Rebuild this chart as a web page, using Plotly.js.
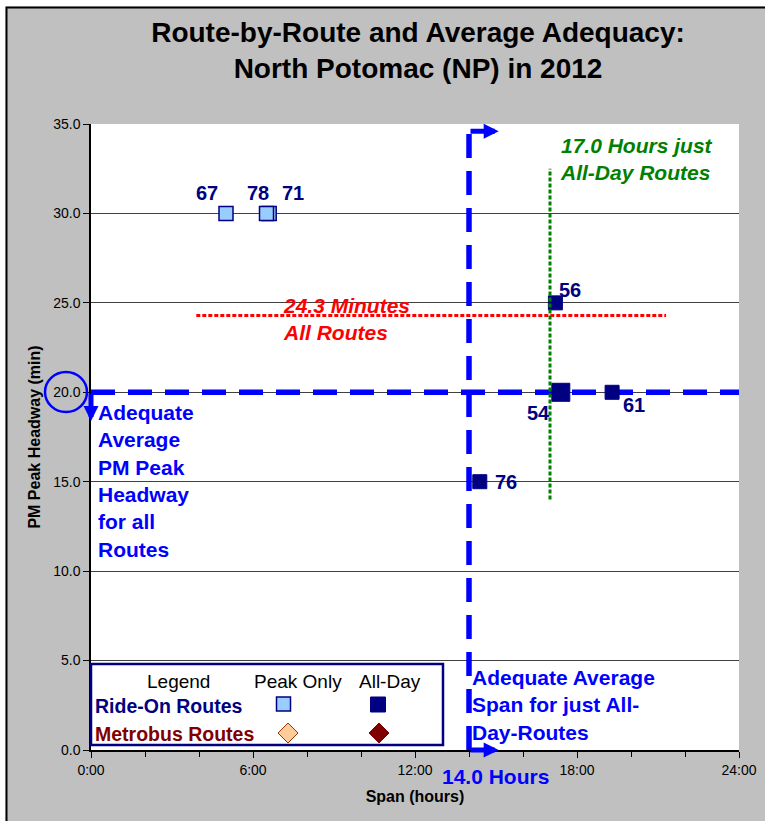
<!DOCTYPE html>
<html>
<head>
<meta charset="utf-8">
<script src="https://cdn.plot.ly/plotly-3.0.1.min.js"></script>
<style>
  html, body { margin: 0; padding: 0; background: #ffffff; }
  #chart { width: 765px; height: 821px; }
</style>
</head>
<body>
<div id="chart"></div>
<script>
// ---------- data ----------
const peakRoutes = ['67', '71', '78'];
const peakSpan = [5.0, 6.6, 6.5];          // hours
const peakHeadway = [30, 30, 30];          // minutes

const allDayRoutes = ['56', '54', '61', '76'];
const allDaySpan = [17.2, 17.4, 19.3, 14.4];
const allDayHeadway = [25, 20, 20, 15];

const avgHeadwayAllRoutes = 24.3;          // minutes
const avgSpanAllDay = 17.0;                // hours
const adequateHeadway = 20;                // minutes
const adequateSpan = 14.0;                 // hours

const avgHeadwayLineSpan = [3.9, 21.3];    // extent of red average line (hours)
const avgSpanLineHeadway = [14.0, 32.5];   // extent of green average line (minutes)
const adequateSpanLineHeadway = [0, 34.6]; // extent of blue vertical line
const adequateHeadwayLineSpan = [0, 24];   // extent of blue horizontal line
const spanArrowTip = 15.1;                 // arrow tips (hours)
const headwayArrowTip = 18.4;              // arrow tip (minutes)

const spanTickVals = [0, 6, 12, 18, 24];
const spanTickText = ['0:00', '6:00', '12:00', '18:00', '24:00'];
const headwayTickVals = [0, 5, 10, 15, 20, 25, 30, 35];

// ---------- styling ----------
const FONT = 'Liberation Sans, Arial, Helvetica, sans-serif';
const NAVY = '#000080';
const BLUE = '#0000FF';
const RED = '#FF0000';
const GREEN = '#008000';
const DARKRED = '#800000';

// plot area in pixels: left 91, right 739, top 124, bottom 750
const M = { l: 91, r: 26, t: 124, b: 71 };
const PW = 765 - M.l - M.r, PH = 821 - M.t - M.b;
const px2x = px => (px - M.l) / PW;
const py2y = py => (M.t + PH - py) / PH;

const allDaySizes = [14, 18, 14, 14];
const labelOffset = {
  '67': [-19, 20], '78': [-9, 20], '71': [24, 20],
  '56': [15, 13], '54': [-22, -21], '61': [22, -13], '76': [26, 0]
};

const traces = [
  { // adequate headway (blue dashed horizontal)
    x: adequateHeadwayLineSpan, y: [adequateHeadway, adequateHeadway],
    mode: 'lines', hoverinfo: 'skip', showlegend: false,
    line: { color: BLUE, width: 5.5, dash: '24px,13px' }
  },
  { // adequate span (blue dashed vertical)
    x: [adequateSpan, adequateSpan], y: adequateSpanLineHeadway,
    mode: 'lines', hoverinfo: 'skip', showlegend: false,
    line: { color: BLUE, width: 5.5, dash: '24px,13px' }
  },
  { // average headway all routes
    x: avgHeadwayLineSpan, y: [avgHeadwayAllRoutes, avgHeadwayAllRoutes],
    mode: 'lines', hoverinfo: 'skip', showlegend: false,
    line: { color: RED, width: 3, dash: '4px,2px' }
  },
  { // Ride-On peak only
    x: peakSpan, y: peakHeadway, text: peakRoutes, name: 'Ride-On Peak Only',
    mode: 'markers', showlegend: false, cliponaxis: false,
    marker: { symbol: 'square', size: 14, opacity: 1, color: '#99CCFF', line: { color: NAVY, width: 1.5 } }
  },
  { // Ride-On all day
    x: allDaySpan, y: allDayHeadway, text: allDayRoutes, name: 'Ride-On All-Day',
    mode: 'markers', showlegend: false, cliponaxis: false,
    marker: { symbol: 'square', size: allDaySizes, opacity: 1, color: NAVY, line: { color: NAVY, width: 1 } }
  },
  { // average span all-day routes
    x: [avgSpanAllDay, avgSpanAllDay], y: avgSpanLineHeadway,
    mode: 'lines', hoverinfo: 'skip', showlegend: false,
    line: { color: GREEN, width: 3, dash: '4px,2px' }
  }
];

const bold = (size, color) => ({ family: FONT, size: size, color: color, weight: 'bold' });
const boldItalic = (size, color) => ({ family: FONT, size: size, color: color, weight: 'bold', style: 'italic' });

const annotations = [];

// route labels
function addLabels(routes, xs, ys) {
  routes.forEach((r, i) => {
    annotations.push({
      x: xs[i], y: ys[i], xref: 'x', yref: 'y', text: r, showarrow: false,
      xanchor: 'center', yanchor: 'middle',
      xshift: labelOffset[r][0], yshift: labelOffset[r][1],
      font: bold(20, NAVY)
    });
  });
}
addLabels(peakRoutes, peakSpan, peakHeadway);
addLabels(allDayRoutes, allDaySpan, allDayHeadway);

// text callouts
annotations.push(
  { xref: 'paper', yref: 'paper', x: px2x(281), y: py2y(319), xanchor: 'left', yanchor: 'middle', align: 'left',
    text: avgHeadwayAllRoutes.toFixed(1) + ' Minutes<br>All Routes', showarrow: false, font: boldItalic(21, RED) },
  { xref: 'paper', yref: 'paper', x: px2x(558), y: py2y(159), xanchor: 'left', yanchor: 'middle', align: 'left',
    text: avgSpanAllDay.toFixed(1) + ' Hours just<br>All-Day Routes', showarrow: false, font: boldItalic(21, GREEN) },
  { xref: 'paper', yref: 'paper', x: px2x(96), y: py2y(481), xanchor: 'left', yanchor: 'middle', align: 'left',
    text: 'Adequate<br>Average<br>PM Peak<br>Headway<br>for all<br>Routes', showarrow: false, font: bold(21, BLUE) },
  { xref: 'paper', yref: 'paper', x: px2x(470), y: py2y(705), xanchor: 'left', yanchor: 'middle', align: 'left',
    text: 'Adequate Average<br>Span for just All-<br>Day-Routes', showarrow: false, font: bold(21, BLUE) },
  { xref: 'paper', yref: 'paper', x: px2x(495), y: py2y(776), xanchor: 'center', yanchor: 'middle',
    text: adequateSpan.toFixed(1) + ' Hours', showarrow: false, font: bold(21, BLUE) }
);

// arrows
const arrowStyle = { text: '', showarrow: true, arrowhead: 2, arrowsize: 0.6, arrowwidth: 5,
  arrowcolor: BLUE, standoff: 0, startstandoff: 0, xref: 'x', yref: 'y', axref: 'x', ayref: 'y' };
annotations.push(
  Object.assign({}, arrowStyle, { x: spanArrowTip, y: adequateSpanLineHeadway[1], ax: adequateSpan, ay: adequateSpanLineHeadway[1] }),
  Object.assign({}, arrowStyle, { x: spanArrowTip, y: 0, ax: adequateSpan, ay: 0 }),
  Object.assign({}, arrowStyle, { x: 0, y: headwayArrowTip, ax: 0, ay: adequateHeadway })
);

// legend box texts
annotations.push(
  { xref: 'paper', yref: 'paper', x: px2x(178), y: py2y(681), xanchor: 'center', yanchor: 'middle',
    text: 'Legend', showarrow: false, font: { family: FONT, size: 19, color: '#000000' } },
  { xref: 'paper', yref: 'paper', x: px2x(298), y: py2y(681), xanchor: 'center', yanchor: 'middle',
    text: 'Peak Only', showarrow: false, font: { family: FONT, size: 19, color: '#000000' } },
  { xref: 'paper', yref: 'paper', x: px2x(390), y: py2y(681), xanchor: 'center', yanchor: 'middle',
    text: 'All-Day', showarrow: false, font: { family: FONT, size: 19, color: '#000000' } },
  { xref: 'paper', yref: 'paper', x: px2x(93), y: py2y(706), xanchor: 'left', yanchor: 'middle',
    text: 'Ride-On Routes', showarrow: false, font: bold(19.5, NAVY) },
  { xref: 'paper', yref: 'paper', x: px2x(93), y: py2y(734), xanchor: 'left', yanchor: 'middle',
    text: 'Metrobus Routes', showarrow: false, font: bold(19.5, DARKRED) }
);

function rectPx(x0, y0, x1, y1, extra) {
  return Object.assign({ type: 'rect', xref: 'paper', yref: 'paper',
    x0: px2x(x0), x1: px2x(x1), y0: py2y(y1), y1: py2y(y0) }, extra);
}
function diamondPx(cx, cy, h, extra) {
  const p = (x, y) => px2x(x) + ',' + py2y(y);
  return Object.assign({ type: 'path', xref: 'paper', yref: 'paper',
    path: 'M' + p(cx - h, cy) + 'L' + p(cx, cy - h) + 'L' + p(cx + h, cy) + 'L' + p(cx, cy + h) + 'Z' }, extra);
}

const shapes = [
  // white page margin strips and chart-area border
  rectPx(-20, -20, 5.5, 860, { layer: 'below', fillcolor: '#ffffff', line: { width: 0 } }),
  rectPx(-20, -20, 800, 6.5, { layer: 'below', fillcolor: '#ffffff', line: { width: 0 } }),
  rectPx(6.5, 7.5, 790, 850, { layer: 'below', fillcolor: 'rgba(0,0,0,0)', line: { color: '#000000', width: 2 } }),
  // legend box
  rectPx(91, 664, 443, 745, { layer: 'above', fillcolor: '#ffffff', line: { color: NAVY, width: 2.5 } }),
  rectPx(276.5, 697, 290.5, 711, { layer: 'above', fillcolor: '#99CCFF', line: { color: NAVY, width: 1.5 } }),
  rectPx(370.5, 697, 385.5, 712, { layer: 'above', fillcolor: NAVY, line: { color: NAVY, width: 1 } }),
  diamondPx(288, 733, 10, { layer: 'above', fillcolor: '#FFCC99', line: { color: '#993300', width: 1 } }),
  diamondPx(379, 733, 10, { layer: 'above', fillcolor: DARKRED, line: { color: DARKRED, width: 1 } }),
  // circle around 20.0 tick label
  { type: 'circle', xref: 'paper', yref: 'paper', x0: px2x(45), x1: px2x(87), y0: py2y(412), y1: py2y(372),
    line: { color: BLUE, width: 2.5 }, layer: 'above' }
];

const layout = {
  width: 765, height: 821,
  margin: M,
  paper_bgcolor: '#C0C0C0',
  plot_bgcolor: '#FFFFFF',
  font: { family: FONT, color: '#000000' },
  showlegend: false,
  title: {
    text: 'Route-by-Route and Average Adequacy:<br>North Potomac (NP) in 2012',
    font: { family: FONT, size: 28, color: '#000000', weight: 'bold' },
    x: 418 / 765, xanchor: 'center', xref: 'container',
    y: 1 - 42 / 821, yanchor: 'top', yref: 'container'
  },
  xaxis: {
    range: [0, 24], tickmode: 'array', tickvals: spanTickVals, ticktext: spanTickText,
    ticks: 'outside', ticklen: 6, tickcolor: '#000000', tickwidth: 1,
    minor: { dtick: 2, tick0: 0, ticks: 'outside', ticklen: 5, tickcolor: '#000000', showgrid: false },
    tickfont: { family: FONT, size: 14, color: '#000000' },
    showline: true, linecolor: '#000000', linewidth: 1.5,
    showgrid: false, zeroline: false, fixedrange: true,
    title: { text: 'Span (hours)', font: { family: FONT, size: 16, color: '#000000', weight: 'bold' }, standoff: 14 },
    automargin: 'height'
  },
  yaxis: {
    range: [0, 35], tickmode: 'array', tickvals: headwayTickVals, tickformat: '.1f',
    ticks: 'outside', ticklen: 6, tickcolor: '#000000', tickwidth: 1,
    tickfont: { family: FONT, size: 14, color: '#000000' },
    showline: true, linecolor: '#000000', linewidth: 1.5,
    showgrid: true, gridcolor: '#404040', gridwidth: 1, zeroline: false, fixedrange: true,
    title: { text: 'PM Peak Headway (min)', font: { family: FONT, size: 16, color: '#000000', weight: 'bold' }, standoff: 9 },
    automargin: 'width'
  },
  annotations: annotations,
  shapes: shapes
};

Plotly.newPlot('chart', traces, layout, { displayModeBar: false, responsive: false });
</script>
</body>
</html>
